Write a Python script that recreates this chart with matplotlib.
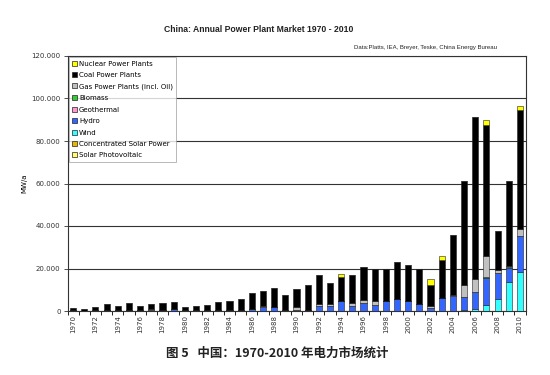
import matplotlib
matplotlib.use("Agg")
import matplotlib.pyplot as plt
import numpy as np
from matplotlib.patches import Patch
from matplotlib.ticker import FuncFormatter, MultipleLocator

years = list(range(1970, 2011))

nuclear = [0]*24 + [1700] + [0]*7 + [2500, 1600, 0, 0, 0, 2000, 0, 0, 1900]
coal = [1300, 900, 1700, 2750, 2050, 3200, 2050, 2050, 2900, 3200,
        1600, 1900, 2300, 3600, 4400, 5300, 7300, 7000, 9100, 7200,
        8500, 11800, 13400, 10100, 11100, 13500, 15700, 14700, 15100, 17300,
        17200, 16700, 10200, 17900, 28600, 48600, 76400, 61800, 18100, 39800,
        55800]
gas = [0]*7 + [800] + [0]*9 + [500] + [0, 0] + \
      [1200, 300, 900, 900, 300, 1400, 1400, 2100, 0, 0,
       0, 0, 600, 0, 300, 5800, 6000, 9900, 1400, 500, 3300]
biomass = [0]*37 + [300, 0, 300, 0]
geothermal = [0]*41
hydro = [300, 200, 300, 400, 300, 500, 300, 300, 700, 900,
         300, 300, 400, 500, 500, 400, 1000, 1700, 1700, 500,
         700, 300, 2500, 2200, 4500, 2200, 3600, 2800, 4500, 5800,
         4600, 3100, 1600, 6300, 7000, 6200, 7800, 12700, 12600, 6800,
         16900]
wind = [0]*35 + [400, 1100, 3000, 5500, 13600, 18400]
csp = [0]*41
pv = [0]*41

series = [
    ("Solar Photovoltaic", pv, "#ffff66"),
    ("Concentrated Solar Power", csp, "#e6b800"),
    ("Wind", wind, "#33ffff"),
    ("Hydro", hydro, "#3366ff"),
    ("Geothermal", geothermal, "#ff99cc"),
    ("Biomass", biomass, "#33cc33"),
    ("Gas Power Plants (incl. Oil)", gas, "#c0c0c0"),
    ("Coal Power Plants", coal, "#000000"),
    ("Nuclear Power Plants", nuclear, "#ffff00"),
]

fig = plt.figure(figsize=(5.5, 3.75), dpi=100)
ax = fig.add_axes([67.5/550, 1-311/375, 458/550, 255/375])

x = np.arange(len(years))
bottom = np.zeros(len(years))
for name, vals, col in series:
    v = np.array(vals, dtype=float)
    ax.bar(x, v, bottom=bottom, width=0.55, color=col, edgecolor="#222222",
           linewidth=0.4, zorder=3)
    bottom += v

ax.set_xlim(-0.5, len(years)-0.5)
ax.set_ylim(0, 120000)
ax.yaxis.set_major_locator(MultipleLocator(20000))
ax.yaxis.set_major_formatter(FuncFormatter(lambda v, p: "0" if v == 0 else f"{int(v):,}".replace(",", ".")))
ax.grid(axis="y", color="#333333", linewidth=0.8, zorder=1)
ax.tick_params(axis="y", labelsize=5, length=3, width=0.6, pad=2, colors="#333333")

ax.set_xticks(x[::2])
ax.set_xticklabels([str(y) for y in years[::2]], rotation=90, fontsize=5, color="#333333")
ax.set_xticks(np.arange(-0.5, len(years), 1), minor=True)
ax.tick_params(axis="x", which="major", length=0, pad=3)
ax.tick_params(axis="x", which="minor", length=3, width=0.6)
for s in ax.spines.values():
    s.set_linewidth(0.8)
    s.set_color("#333333")

ax.set_ylabel("MW/a", fontsize=5)
ax.yaxis.set_label_coords(-0.088, 0.5)

handles = [Patch(facecolor=c, edgecolor="#222222", linewidth=0.5, label=n) for n, v, c in series[::-1]]
leg = ax.legend(handles=handles, loc="upper left", bbox_to_anchor=(0.0, 1.0), fontsize=5,
                frameon=True, fancybox=False, edgecolor="#999999", handlelength=0.7,
                handleheight=0.7, handletextpad=0.3, labelspacing=0.78, borderpad=0.5,
                borderaxespad=0.15)
leg.get_frame().set_linewidth(0.6)
leg.set_zorder(5)

fig.text(259/550, 1-30/375, "China: Annual Power Plant Market 1970 - 2010", ha="center", va="center",
         fontsize=6.2, fontweight="bold", family="Liberation Sans", color="#222222")
fig.text(497/550, 1-48/375, "Data:Platts, IEA, Breyer, Teske, China Energy Bureau", ha="right", va="center",
         fontsize=4.3, family="Liberation Sans", color="#222222")
fig.text(277/550, 1-353/375, "图 5   中国：1970-2010 年电力市场统计", ha="center", va="center",
         fontsize=9, fontweight="bold", family=["Noto Sans CJK SC", "DejaVu Sans"], color="#222222")

fig.savefig("out.png", dpi=100)
